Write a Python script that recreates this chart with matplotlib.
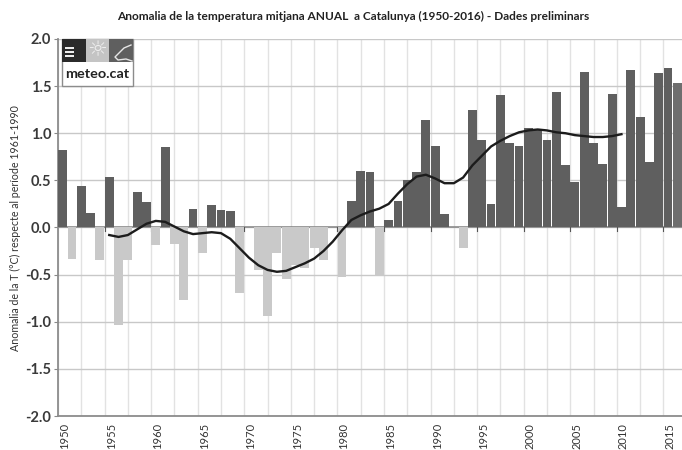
#!/usr/bin/env python3
import numpy as np
import matplotlib.pyplot as plt
import matplotlib.transforms as mtransforms
from matplotlib.lines import Line2D
from matplotlib.patches import Rectangle

years = np.arange(1950, 2017)
anomalies = [0.82, -0.33, 0.44, 0.15, -0.34, 0.54, -1.03, -0.34, 0.38, 0.27,
             -0.19, 0.85, -0.17, -0.77, 0.20, -0.27, 0.24, 0.19, 0.17, -0.70,
             0.00, -0.45, -0.94, -0.27, -0.55, -0.40, -0.43, -0.22, -0.34, 0.00,
             -0.53, 0.28, 0.60, 0.59, -0.51, 0.08, 0.28, 0.50, 0.59, 1.14,
             0.87, 0.14, 0.01, -0.22, 1.25, 0.93, 0.25, 1.41, 0.90, 0.87,
             1.06, 1.05, 0.93, 1.44, 0.66, 0.48, 1.65, 0.90, 0.67, 1.42,
             0.22, 1.67, 1.17, 0.70, 1.64, 1.69, 1.53]

trend_years = np.arange(1955, 2011)
trend = [-0.08, -0.10, -0.08, -0.02, 0.04, 0.07, 0.06, 0.01, -0.04, -0.07,
         -0.06, -0.05, -0.06, -0.12, -0.22, -0.32, -0.40, -0.45, -0.47, -0.46,
         -0.42, -0.38, -0.33, -0.25, -0.15, -0.03, 0.08, 0.13, 0.17, 0.20,
         0.25, 0.36, 0.46, 0.54, 0.56, 0.52, 0.47, 0.47, 0.53, 0.66,
         0.76, 0.86, 0.92, 0.97, 1.01, 1.03, 1.04, 1.03, 1.01, 1.00,
         0.98, 0.97, 0.96, 0.96, 0.97, 0.99]

y_ticks = [2.0, 1.5, 1.0, 0.5, 0.0, -0.5, -1.0, -1.5, -2.0]
x_ticks = np.arange(1950, 2016, 5)

TITLE = 'Anomalia de la temperatura mitjana ANUAL  a Catalunya (1950-2016) - Dades preliminars'
YLABEL = 'Anomalia de la T (°C) respecte al període 1961-1990'

plt.rcParams['font.family'] = ['Lato', 'DejaVu Sans']

fig = plt.figure(figsize=(6.82, 4.5), dpi=100)
ax = fig.add_axes([58 / 682, 1 - 416 / 450, 624 / 682, 377 / 450])

values = np.array(anomalies)
colors = np.where(values >= 0, '#5f5f5f', '#c9c9c9')
colors[-1] = '#6e6e6e'
ax.bar(years, values, width=0.95, color=colors, zorder=3)
ax.plot(trend_years, trend, color='#1c1c1c', lw=1.7, zorder=4)

ax.set_xlim(1949.5, 2016.5)
ax.set_ylim(-2, 2)

# the vertical grid sits every 2.5 years from the left edge
ax.set_xticks(np.arange(1949.5, 2017, 2.5), minor=True)
ax.grid(True, which='minor', axis='x', color='#e2e2e2', lw=1.0, zorder=0)
ax.tick_params(axis='x', which='minor', length=0)
ax.set_yticks(y_ticks)
ax.set_yticklabels([f'{t:.1f}' for t in y_ticks], fontsize=10.5, fontweight='bold', color='#3a3a3a')
ax.grid(True, which='major', axis='y', color='#c8c8c8', lw=1.0, zorder=1)
ax.tick_params(axis='y', length=3, color='#888888', pad=2)

ax.set_xticks(x_ticks)
ax.set_xticklabels(x_ticks, rotation=90, fontsize=8, color='#333333')
ax.tick_params(axis='x', which='major', length=0, pad=5)
shift = mtransforms.ScaledTranslation(2 / 100, 0, fig.dpi_scale_trans)
for lab in ax.get_xticklabels():
    lab.set_transform(lab.get_transform() + shift)

for side in ['top', 'right']:
    ax.spines[side].set_visible(False)
for side in ['left', 'bottom']:
    ax.spines[side].set_color('#8c8c8c')
    ax.spines[side].set_linewidth(1.3)
ax.axhline(2.0, color='#bdbdbd', lw=1.3, zorder=1)
ax.axhline(0, color='#8c8c8c', lw=1.2, zorder=2)

# small ticks on the zero line
for yr in np.arange(1954.5, 2016, 5):
    ax.plot([yr, yr], [0, -0.04], color='#555555', lw=0.8, zorder=2)

fig.text(353 / 682, 1 - 16 / 450, TITLE, ha='center', va='center', fontsize=8.55, fontweight='bold', color='#222222')
fig.text(15 / 682, 1 - 228 / 450, YLABEL, rotation=90, ha='center', va='center', fontsize=7.7, color='#333333')

# meteo.cat logo
def logo_box(x, y, w, h, fc, ec='none', lw=0, z=6):
    fig.add_artist(Rectangle((x / 682, 1 - (y + h) / 450), w / 682, h / 450, transform=fig.transFigure,
                             facecolor=fc, edgecolor=ec, linewidth=lw, zorder=z))

logo_box(62, 39, 71, 47, 'white', ec='#8c8c8c', lw=1)
logo_box(62, 39, 24, 23, '#2b2b2b', z=7)
logo_box(86, 39, 23, 23, '#c4c4c4', z=7)
logo_box(109, 39, 24, 23, '#5f5f5f', z=7)
for ly in [47, 51, 55]:
    logo_box(65, ly, 9, 1.5, '#eeeeee', z=8)
fig.text(97.5 / 682, 1 - 50.5 / 450, '☼', ha='center', va='center', fontsize=16, color='#eeeeee', zorder=8,
         family='DejaVu Sans')
cloud_x = [131, 124, 119, 115, 118, 126, 132]
cloud_y = [45, 48, 53, 57, 60, 59, 61]
fig.add_artist(Line2D([x / 682 for x in cloud_x], [1 - y / 450 for y in cloud_y], transform=fig.transFigure,
                      color='#e6e6e6', lw=1.0, zorder=8))
fig.text(97.5 / 682, 1 - 74 / 450, 'meteo.cat', ha='center', va='center', fontsize=10.4, fontweight='bold',
         color='#222222', zorder=8)

plt.savefig('out.png', dpi=100)
plt.close()
